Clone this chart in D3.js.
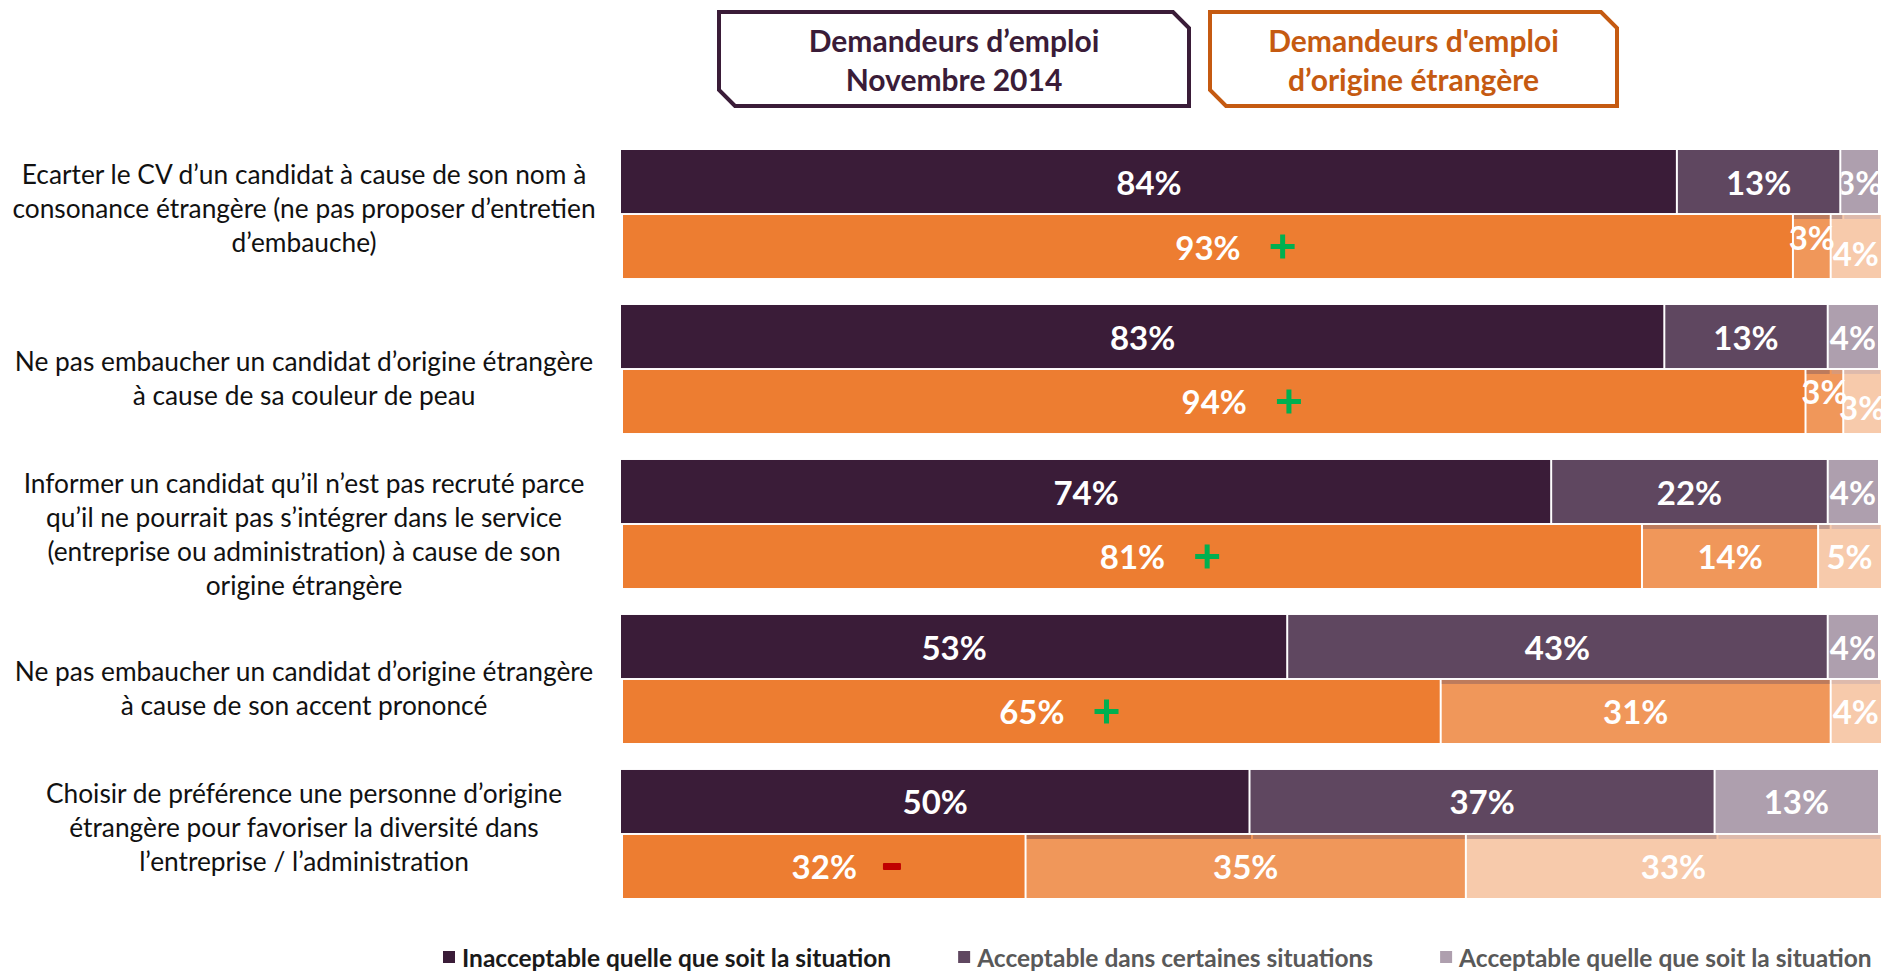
<!DOCTYPE html>
<html><head><meta charset="utf-8">
<script src="https://cdn.jsdelivr.net/npm/d3@7"></script>
<style>
body{margin:0;background:#fff}
svg{display:block}
text{font-family:Lato,"Open Sans","Noto Sans",sans-serif}
</style>
</head><body>
<svg id="chart" width="1902" height="972"></svg>
<script>
// ---------- DATA ----------
const categories = [
  ["Ecarter le CV d’un candidat à cause de son nom à","consonance étrangère (ne pas proposer d’entretien","d’embauche)"],
  ["Ne pas embaucher un candidat d’origine étrangère","à cause de sa couleur de peau"],
  ["Informer un candidat qu’il n’est pas recruté parce","qu’il ne pourrait pas s’intégrer dans le service","(entreprise ou administration) à cause de son","origine étrangère"],
  ["Ne pas embaucher un candidat d’origine étrangère","à cause de son accent prononcé"],
  ["Choisir de préférence une personne d’origine","étrangère pour favoriser la diversité dans","l’entreprise / l’administration"]
];
const seriesNames = ["Inacceptable quelle que soit la situation","Acceptable dans certaines situations","Acceptable quelle que soit la situation"];
const groupHeaders = [["Demandeurs d’emploi","Novembre 2014"],["Demandeurs d'emploi","d’origine étrangère"]];
const jobSeekers2014 = [[84,13,3],[83,13,4],[74,22,4],[53,43,4],[50,37,13]];
const foreignOrigin  = [[93,3,4],[94,3,3],[81,14,5],[65,31,4],[32,35,33]];
const significance   = ["+","+","+","+","-"];

// ---------- STYLE ----------
const purples = ["#3a1c38","#5f4760","#ae9fae"];
const oranges = ["#ed7d31","#f0975a","#f7caab"];
const headerColors = ["#3a1c38","#c55a11"];

const svg = d3.select("#chart");
const defs = svg.append("defs");

const y = d3.scaleBand().domain(d3.range(categories.length)).range([150,898]).paddingInner(0.174).paddingOuter(0).align(0);
const sub = d3.scaleBand().domain(["all","foreign"]).range([0, y.bandwidth()]).paddingInner(0.03);
const xAll = d3.scaleLinear().domain([0,100]).range([621,1878]);
const xFor = d3.scaleLinear().domain([0,100]).range([623,1881]);

function stackRow(vals){
  let acc = 0;
  return vals.map((v,i)=>{const s=acc; acc+=v; return {i, v, s, e:acc};});
}

// ---------- HEADER BOXES ----------
const boxes = [[719,12,1189,106],[1210,12,1617,106]];
groupHeaders.forEach((lines,k)=>{
  const [x0,y0,x1,y1] = boxes[k], c = 16;
  svg.append("path")
    .attr("d",`M${x0},${y0}L${x1-c},${y0}L${x1},${y0+c}L${x1},${y1}L${x0+c},${y1}L${x0},${y1-c}Z`)
    .attr("fill","#fff").attr("stroke",headerColors[k]).attr("stroke-width",4).attr("stroke-linejoin","miter");
  lines.forEach((t,j)=>{
    svg.append("text").attr("x",(x0+x1)/2).attr("y",39.5+j*39)
      .attr("text-anchor","middle").attr("dominant-baseline","central")
      .attr("font-size",30).attr("font-weight",700).attr("fill",headerColors[k]).text(t);
  });
});

// ---------- CATEGORY LABELS ----------
categories.forEach((lines,k)=>{
  const lh = 34;
  const top = y(k);
  const firstY = lines.length >= 3 ? top + 23.5 : top + y.bandwidth()/2 + 9 - (lines.length-1)/2*lh;
  lines.forEach((t,j)=>{
    svg.append("text").attr("x",304).attr("y",firstY + j*lh)
      .attr("text-anchor","middle").attr("dominant-baseline","central")
      .attr("font-size",26.3).attr("fill","#111").text(t);
  });
});

// ---------- BARS ----------
const rows = [
  {key:"all", data:jobSeekers2014, x:xAll, colors:purples},
  {key:"foreign", data:foreignOrigin, x:xFor, colors:oranges}
];

categories.forEach((_,k)=>{
  const g = svg.append("g");
  rows.forEach(row=>{
    const segs = stackRow(row.data[k]);
    const top = y(k) + sub(row.key), h = sub.bandwidth(), cy = top + h/2;
    const x = row.x;
    g.selectAll(null).data(segs).enter().append("rect")
      .attr("x",d=>x(d.s)+(d.i>0?1:0))
      .attr("width",d=>x(d.e)-x(d.s)-(d.i>0?1:0)-(d.i<segs.length-1?1:0))
      .attr("y",top).attr("height",h)
      .attr("fill",d=>row.colors[d.i]);

    // thin shade on top of lighter orange segments, tinted by the purple bar above
    if(row.key==="foreign"){
      const above = stackRow(jobSeekers2014[k]);
      segs.filter(d=>d.i>0).forEach(d=>{
        above.forEach(a=>{
          const s = Math.max(d.s,a.s), e = Math.min(d.e,a.e);
          if(e>s){
            g.append("rect").attr("x",x(s)+1).attr("width",Math.max(0,x(e)-x(s)-2))
              .attr("y",top).attr("height",4).attr("fill",purples[a.i]).attr("opacity",0.35);
          }
        });
      });
    }

    const bothSmall = segs.length===3 && (x(segs[1].e)-x(segs[1].s))<55 && (x(segs[2].e)-x(segs[2].s))<55;
    segs.forEach(d=>{
      let dy = 0;
      if(row.key==="foreign" && bothSmall){ dy = d.i===1 ? -10 : (d.i===2 ? 6 : 0); }
      const t = g.append("text")
        .attr("x",(x(d.s)+x(d.e))/2).attr("y",cy+dy)
        .attr("text-anchor","middle").attr("dominant-baseline","central")
        .attr("font-size",33).attr("font-weight",700).attr("fill","#fff")
        .text(d.v+"%");
      if(row.key==="all" && d.i>0){
        const id = `clip-${k}-${d.i}`;
        defs.append("clipPath").attr("id",id).append("rect")
          .attr("x",x(d.s)+1).attr("y",top).attr("width",1902).attr("height",h);
        t.attr("clip-path",`url(#${id})`);
      }
      if(row.key==="foreign" && d.i===0){
        const w = t.node().getComputedTextLength();
        const endX = (x(d.s)+x(d.e))/2 + w/2;
        if(significance[k]==="+"){
          const mx = endX + 42;
          g.append("rect").attr("x",mx-12).attr("y",cy-2.5).attr("width",24).attr("height",5).attr("fill","#00b050");
          g.append("rect").attr("x",mx-2.5).attr("y",cy-12).attr("width",5).attr("height",24).attr("fill","#00b050");
        } else {
          const mx = endX + 35;
          g.append("rect").attr("x",mx-9).attr("y",cy-3.5).attr("width",18).attr("height",7).attr("rx",1).attr("fill","#c00000");
        }
      }
    });
  });
});

// ---------- LEGEND ----------
let lx = 443;
const legendText = ["#1a1a1a","#595959","#595959"];
seriesNames.forEach((name,i)=>{
  svg.append("rect").attr("x",lx).attr("y",951).attr("width",12).attr("height",12).attr("fill",purples[i]);
  const t = svg.append("text").attr("x",lx+19).attr("y",957)
    .attr("dominant-baseline","central").attr("font-size",24.5).attr("font-weight",700)
    .attr("fill",legendText[i]).text(name);
  lx = lx + 19 + t.node().getComputedTextLength() + 67;
});
</script>
</body></html>
